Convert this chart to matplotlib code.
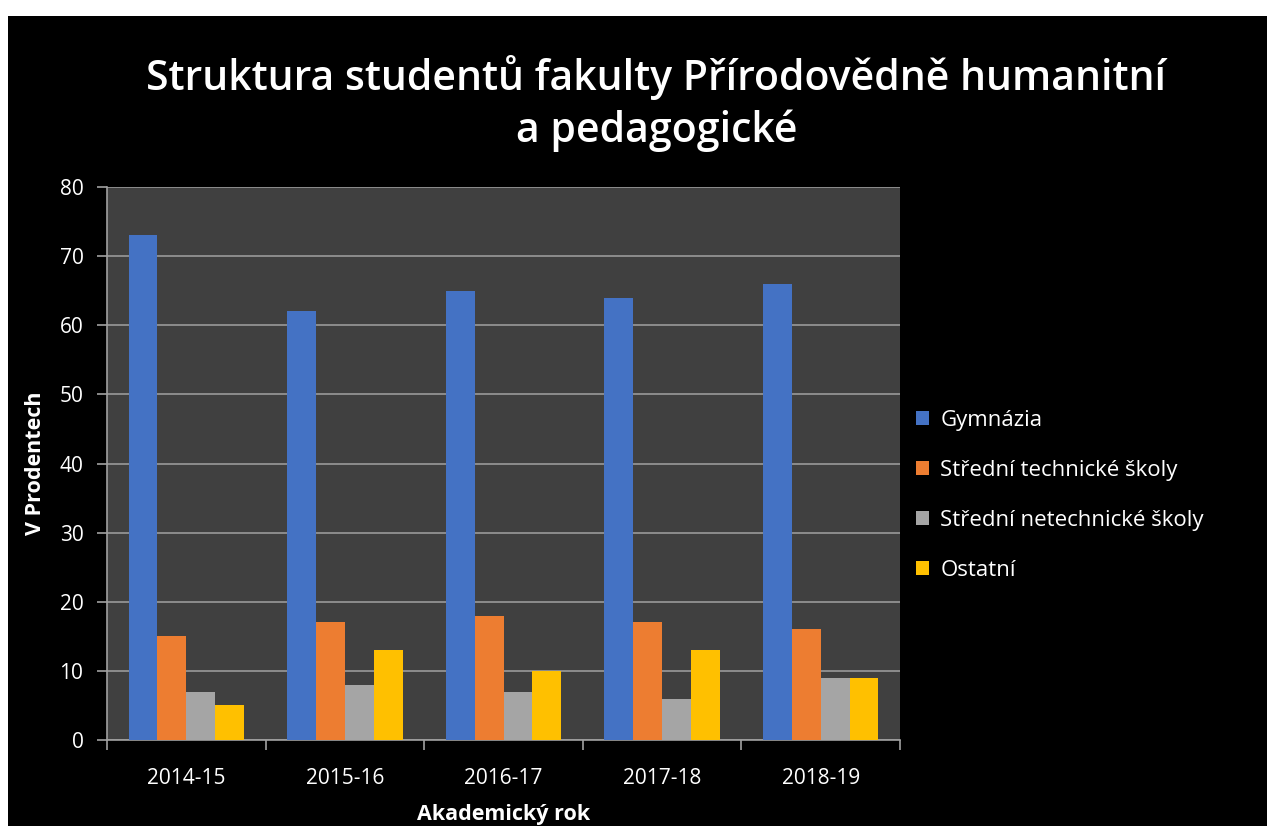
import numpy as np
import matplotlib.pyplot as plt
from matplotlib.patches import Rectangle

# data
years = ["2014-15", "2015-16", "2016-17", "2017-18", "2018-19"]
gymnazia = [73, 62, 65, 64, 66]
stredni_tech = [15, 17, 18, 17, 16]
stredni_netech = [7, 8, 7, 6, 9]
ostatni = [5, 13, 10, 13, 9]

series = [gymnazia, stredni_tech, stredni_netech, ostatni]
labels = ["Gymnázia", "Střední technické školy", "Střední netechnické školy", "Ostatní"]
colors = ["#4472C4", "#ED7D31", "#A5A5A5", "#FFC000"]

plt.rcParams['font.family'] = ['Open Sans', 'DejaVu Sans']

fig = plt.figure(figsize=(12.67, 8.26), dpi=100, facecolor="white")
# black chart background with a thin white margin top/left
fig.patches.append(Rectangle((8 / 1267, 0), 1, 1 - 16 / 826, transform=fig.transFigure,
                             facecolor="black", edgecolor="none", zorder=-10))

ax = fig.add_axes([107 / 1267, 86 / 826, 793 / 1267, 553 / 826])
ax.set_facecolor("#404040")

x = np.arange(len(years))
w = 0.182
for i, (vals, lab, col) in enumerate(zip(series, labels, colors)):
    ax.bar(x - 1.5 * w + i * w, vals, width=w, color=col, label=lab, zorder=3)

ax.set_xlim(-0.5, len(years) - 0.5)
ax.set_ylim(0, 80)
ax.set_yticks(range(0, 81, 10))
ax.yaxis.grid(True, color="#9a9a9a", linewidth=1.2, zorder=0)

# tick marks between categories, labels at centres
ax.set_xticks(np.arange(-0.5, len(years), 1))
ax.set_xticklabels([])
ax.set_xticks(x, minor=True)
ax.set_xticklabels(years, minor=True)
ax.tick_params(axis="x", which="major", length=7, color="#a0a0a0", width=1.2)
ax.tick_params(axis="x", which="minor", length=0, pad=20, labelsize=15, labelcolor="white")
ax.tick_params(axis="y", length=7, color="#a0a0a0", width=1.2, labelsize=15,
               labelcolor="white", pad=10)

for s in ["top", "right"]:
    ax.spines[s].set_visible(False)
for s in ["left", "bottom"]:
    ax.spines[s].set_color("#a0a0a0")
    ax.spines[s].set_linewidth(1.2)

ax.set_ylabel("V Prodentech", color="white", fontsize=15.5, fontweight="bold", labelpad=10)
ax.set_xlabel("Akademický rok", color="white", fontsize=15.5, fontweight="bold", labelpad=11)

fig.text(0.518, 0.875, "Struktura studentů fakulty Přírodovědně humanitní\na pedagogické",
         ha="center", va="center", color="white", fontsize=29.5, fontweight="semibold",
         linespacing=1.3)

leg = ax.legend(loc="center left", bbox_to_anchor=(0.995, 0.442), frameon=False,
                fontsize=16, labelcolor="white", handlelength=0.6, handleheight=0.6,
                handletextpad=0.5, labelspacing=1.3)

fig.savefig("out.png", dpi=100, facecolor=fig.get_facecolor())
